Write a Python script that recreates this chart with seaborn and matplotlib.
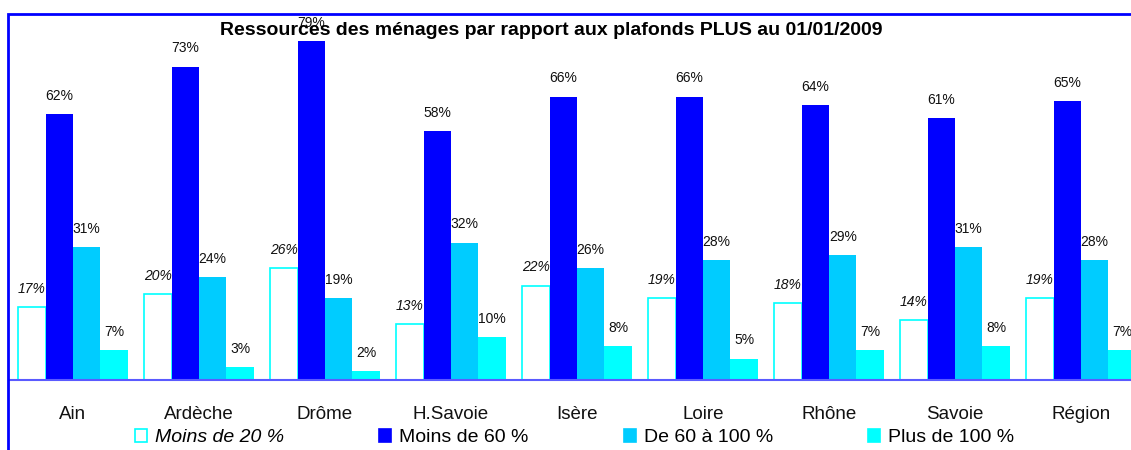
import pandas as pd
import matplotlib.pyplot as plt
import seaborn as sns
from matplotlib.patches import Rectangle

# data
departements = ["Ain", "Ardèche", "Drôme", "H.Savoie", "Isère", "Loire", "Rhône", "Savoie", "Région"]
series_names = ["Moins de 20 %", "Moins de 60 %", "De 60 à 100 %", "Plus de 100 %"]
moins_20 = [17, 20, 26, 13, 22, 19, 18, 14, 19]
moins_60 = [62, 73, 79, 58, 66, 66, 64, 61, 65]
de_60_100 = [31, 24, 19, 32, 26, 28, 29, 31, 28]
plus_100 = [7, 3, 2, 10, 8, 5, 7, 8, 7]

colors = ["#FFFFFF", "#0000FF", "#00CCFF", "#00FFFF"]

rows = []
for name, vals in zip(series_names, [moins_20, moins_60, de_60_100, plus_100]):
    for dep, v in zip(departements, vals):
        rows.append({"dep": dep, "serie": name, "val": v})
df = pd.DataFrame(rows)

sns.set_style("white")
plt.rcParams["font.family"] = ["Liberation Sans", "DejaVu Sans"]
plt.rcParams["text.color"] = "black"
plt.rcParams["xtick.color"] = "black"

fig = plt.figure(figsize=(11.31, 4.5), dpi=100)
# axes runs past the right edge like the cropped original
ax = fig.add_axes([10 / 1131, 70 / 450, 1134 / 1131, 365 / 450])

sns.barplot(data=df, x="dep", y="val", hue="serie", palette=colors,
            width=0.87, saturation=1, ax=ax, legend=False, linewidth=0)

# white bars with cyan outline for the first series
for bar in ax.containers[0]:
    bar.set_edgecolor("#00FFFF")
    bar.set_linewidth(1.2)

for i, cont in enumerate(ax.containers):
    ax.bar_label(cont, labels=[f"{int(v)}%" for v in cont.datavalues],
                 padding=8, fontsize=10, color="#111111",
                 fontstyle="italic" if i == 0 else "normal")

ax.set_ylim(0, 85)
ax.set_xlim(-0.5, len(departements) - 0.5)
ax.set_yticks([])
ax.set_xlabel("")
ax.set_ylabel("")
for s in ["top", "right", "left"]:
    ax.spines[s].set_visible(False)
ax.spines["bottom"].set_color("#5A5AFF")
ax.spines["bottom"].set_linewidth(1.5)

ax.set_xticks(range(len(departements)))
ax.set_xticklabels(departements, fontsize=13.5, color="#111111")
ax.tick_params(axis="x", which="major", length=0, pad=19)
ax.set_xticks([i + 0.5 for i in range(len(departements) - 1)], minor=True)
ax.tick_params(axis="x", which="minor", length=6, width=1, color="#0000FF", direction="out")

fig.text(0.487, 0.933, "Ressources des ménages par rapport aux plafonds PLUS au 01/01/2009",
         ha="center", va="center", fontsize=14, fontweight="bold", color="black")

handles = [Rectangle((0, 0), 1, 1, facecolor=c,
                     edgecolor="#00FFFF" if i == 0 else c, linewidth=1.2)
           for i, c in enumerate(colors)]
leg = fig.legend(handles, series_names, ncol=4, loc="center",
                 bbox_to_anchor=(0.508, 0.027), frameon=False, fontsize=14,
                 handlelength=0.62, handleheight=0.62, handletextpad=0.4,
                 columnspacing=4.9)
leg.get_texts()[0].set_fontstyle("italic")

# blue outer frame, clipped at right and bottom
fig.patches.append(Rectangle((8 / 1131, -0.2), 1.2, 1 - 14 / 450 + 0.2,
                             transform=fig.transFigure, fill=False,
                             edgecolor="#0000FF", linewidth=2))

fig.savefig("out.png", dpi=100)
